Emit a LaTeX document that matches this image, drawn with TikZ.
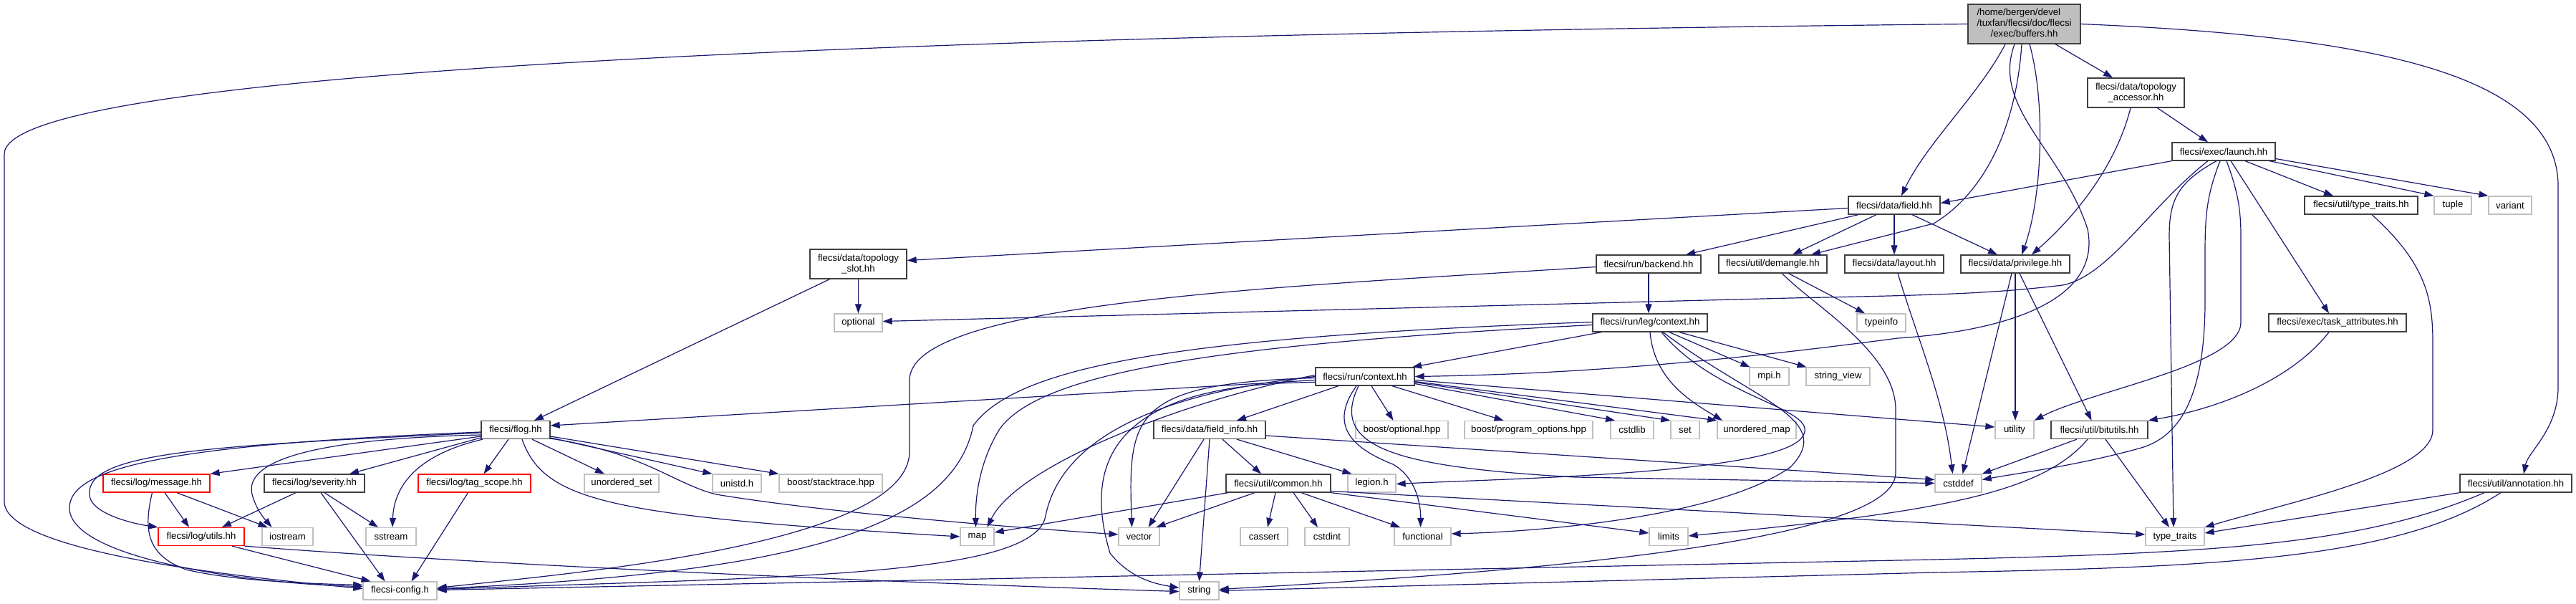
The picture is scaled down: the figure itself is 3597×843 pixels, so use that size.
\documentclass[tikz,border=0pt]{standalone}
\usepackage{fontspec}
\setmainfont{Liberation Sans}
\usetikzlibrary{arrows.meta}
\definecolor{edgec}{HTML}{191970}
\definecolor{docb}{HTML}{404040}
\definecolor{sysb}{HTML}{BFBFBF}
\definecolor{rootf}{HTML}{BFBFBF}
\definecolor{redb}{HTML}{FF0000}
\begin{document}
\begin{tikzpicture}[x=1pt,y=-1pt,
  nb/.style={rectangle, inner sep=0pt, line width=1.3pt, fill=white, text=black, align=center, font=\fontsize{13.2pt}{15pt}\selectfont},
  docn/.style={nb, draw=docb},
  sysn/.style={nb, draw=sysb},
  trn/.style={nb, draw=redb},
  sz/.style 2 args={minimum width=#1pt, minimum height=#2pt},
  edg/.style={draw=edgec, line width=1.2pt, -{Triangle[length=13pt,width=9pt]}}]
\useasboundingbox (0,0) rectangle (3597,843);
\fill[white] (0,0) rectangle (3597,843);
% ---- nodes
\node[docn, fill=rootf, sz={157}{55}] (root) at (2826.5,33.5) {\begin{tabular}{@{}l@{}}/home/bergen/devel\\/tuxfan/flecsi/doc/flecsi\\\multicolumn{1}{@{}c@{}}{/exec/buffers.hh}\end{tabular}};
\node[docn, sz={135}{41}] (topacc) at (2982.5,129.5) {flecsi/data/topology\\\_accessor.hh};
\node[docn, sz={144}{25}] (launch) at (3105,211.5) {flecsi/exec/launch.hh};
\node[docn, sz={128}{25}] (field) at (2645,286.5) {flecsi/data/field.hh};
\node[docn, sz={158}{25}] (typetraitshh) at (3297,286.5) {flecsi/util/type\_traits.hh};
\node[sysn, sz={52}{25}] (ntuple) at (3425,286.5) {tuple};
\node[sysn, sz={60}{25}] (nvariant) at (3505,286.5) {variant};
\node[docn, sz={135}{41}] (topslot) at (1198.5,368.5) {flecsi/data/topology\\\_slot.hh};
\node[docn, sz={146}{25}] (backend) at (2302,368.5) {flecsi/run/backend.hh};
\node[docn, sz={151}{25}] (demangle) at (2475.5,368.5) {flecsi/util/demangle.hh};
\node[docn, sz={138}{25}] (layout) at (2645,368.5) {flecsi/data/layout.hh};
\node[docn, sz={152}{25}] (privilege) at (2814,368.5) {flecsi/data/privilege.hh};
\node[sysn, sz={67}{25}] (noptional) at (1198.5,450.5) {optional};
\node[docn, sz={160}{25}] (legctx) at (2304,450.5) {flecsi/run/leg/context.hh};
\node[sysn, sz={68}{25}] (ntypeinfo) at (2627,450.5) {typeinfo};
\node[docn, sz={192}{25}] (taskattr) at (3264,450.5) {flecsi/exec/task\_attributes.hh};
\node[docn, sz={138}{25}] (runctx) at (1906,525.5) {flecsi/run/context.hh};
\node[sysn, sz={55}{25}] (nmpi) at (2470.5,525.5) {mpi.h};
\node[sysn, sz={89}{25}] (nsview) at (2566.5,525.5) {string\_view};
\node[docn, sz={96}{25}] (flog) at (720,600) {flecsi/flog.hh};
\node[docn, sz={156}{25}] (fieldinfo) at (1689,600) {flecsi/data/field\_info.hh};
\node[sysn, sz={129}{25}] (boostopt) at (1957.5,600) {boost/optional.hpp};
\node[sysn, sz={179}{25}] (boostpo) at (2134.5,600) {boost/program\_options.hpp};
\node[sysn, sz={60}{25}] (ncstdlib) at (2279,600) {cstdlib};
\node[sysn, sz={40}{25}] (nset) at (2353,600) {set};
\node[sysn, sz={110}{25}] (numap) at (2453,600) {unordered\_map};
\node[sysn, sz={54}{25}] (nutility) at (2813,600) {utility};
\node[docn, sz={135}{25}] (bitutils) at (2931.5,600) {flecsi/util/bitutils.hh};
\node[trn, sz={149}{25}] (message) at (218.5,674.5) {flecsi/log/message.hh};
\node[docn, sz={140}{25}] (severity) at (439,674.5) {flecsi/log/severity.hh};
\node[trn, sz={157}{25}] (tagscope) at (662.5,674.5) {flecsi/log/tag\_scope.hh};
\node[sysn, sz={104}{25}] (nuset) at (868,674.5) {unordered\_set};
\node[sysn, sz={68}{25}] (nunistd) at (1029,674.5) {unistd.h};
\node[sysn, sz={144}{25}] (nstack) at (1160,674.5) {boost/stacktrace.hpp};
\node[docn, sz={146}{25}] (common) at (1785,674.5) {flecsi/util/common.hh};
\node[sysn, sz={67}{25}] (nlegion) at (1915.5,674.5) {legion.h};
\node[sysn, sz={65}{25}] (ncstddef) at (2734.5,674.5) {cstddef};
\node[docn, sz={156}{25}] (annotation) at (3513,674.5) {flecsi/util/annotation.hh};
\node[trn, sz={120}{25}] (utils) at (281,749) {flecsi/log/utils.hh};
\node[sysn, sz={71}{25}] (niostream) at (401.5,749) {iostream};
\node[sysn, sz={70}{25}] (nsstream) at (546,749) {sstream};
\node[sysn, sz={47}{25}] (nmap) at (1364.5,749) {map};
\node[sysn, sz={57}{25}] (nvector) at (1590.5,749) {vector};
\node[sysn, sz={66}{25}] (ncassert) at (1765,749) {cassert};
\node[sysn, sz={62}{25}] (ncstdint) at (1853,749) {cstdint};
\node[sysn, sz={79}{25}] (nfunctional) at (1986.5,749) {functional};
\node[sysn, sz={54}{25}] (nlimits) at (2330,749) {limits};
\node[sysn, sz={82}{25}] (ntt) at (3037,749) {type\_traits};
\node[sysn, sz={103}{25}] (config) at (558.5,824.5) {flecsi-config.h};
\node[sysn, sz={55}{25}] (nstring) at (1674.5,824.5) {string};
% ---- root
\draw[edg] (root.west) .. controls (1200,50) and (6,100) .. (6,215) -- (6,700) .. controls (6,770) and (330,805) .. ([yshift=3pt]config.west);
\draw[edg] ([xshift=-26.5pt]root.south) .. controls (2765,130) and (2690,200) .. ([xshift=10pt]field.north);
\draw[edg] ([xshift=-13.5pt]root.south) .. controls (2780,150) and (2880,210) .. (2915,320) .. controls (2935,420) and (2800,462) .. (2650,472) .. controls (2400,505) and (2200,522) .. (runctx.east);
\draw[edg] ([xshift=-3.5pt]root.south) .. controls (2815,180) and (2770,270) .. (2700,312) -- ([xshift=53.5pt]demangle.north);
\draw[edg] ([xshift=7.5pt]root.south) .. controls (2858,150) and (2850,280) .. ([xshift=9pt]privilege.north);
\draw[edg] ([xshift=43.5pt]root.south) -- ([xshift=-32.5pt]topacc.north);
\draw[edg] (root.east) .. controls (3300,50) and (3572,100) .. (3572,260) -- (3572,540) .. controls (3572,600) and (3530,630) .. ([xshift=11pt]annotation.north);
% ---- topology_accessor
\draw[edg] ([xshift=-7.5pt]topacc.south) .. controls (2955,230) and (2900,300) .. ([xshift=23pt]privilege.north);
\draw[edg] ([xshift=30pt]topacc.south) -- ([xshift=-22pt]launch.north);
% ---- launch
\draw[edg] (launch.south west) -- ([yshift=3pt]field.east);
\draw[edg] ([xshift=-22pt]launch.south) .. controls (3000,290) and (2945,385) .. (2880,398) .. controls (2780,410) and (2700,412) .. (2500,416) -- ([yshift=2pt]noptional.east);
\draw[edg] ([xshift=-10pt]launch.south) .. controls (3040,255) and (3029,280) .. (3029,330) -- ([xshift=-2pt]ntt.north);
\draw[edg] ([xshift=-5pt]launch.south) .. controls (3082,270) and (3079,300) .. (3079,350) -- (3079,420) .. controls (3079,560) and (3040,610) .. (2990,625) .. controls (2900,650) and (2820,660) .. ([yshift=5pt]ncstddef.east);
\draw[edg] ([xshift=4pt]launch.south) .. controls (3124,265) and (3129,290) .. (3129,330) -- (3129,450) .. controls (3129,510) and (2920,545) .. (nutility.north east);
\draw[edg] ([xshift=10pt]launch.south) -- ([xshift=-12pt]taskattr.north);
\draw[edg] ([xshift=30pt]launch.south) -- ([xshift=-39pt]typetraitshh.north);
\draw[edg] ([xshift=64pt]launch.south) -- (ntuple.north west);
\draw[edg] ([yshift=-10pt]launch.east) -- (nvariant.north west);
% ---- field
\draw[edg] ([yshift=-4pt]field.west) -- ([yshift=5pt]topslot.east);
\draw[edg] ([xshift=-50pt]field.south) -- ([xshift=52pt]backend.north);
\draw[edg] ([xshift=-25pt]field.south) -- ([xshift=27.5pt]demangle.north);
\draw[edg] (field.south) -- (layout.north);
\draw[edg] ([xshift=25pt]field.south) -- ([xshift=-25pt]privilege.north);
% ---- topology_slot
\draw[edg] ([xshift=-40pt]topslot.south) -- ([xshift=26pt]flog.north);
\draw[edg] (topslot.south) -- (noptional.north);
% ---- backend
\draw[edg] (backend.south) -- ([xshift=-2pt]legctx.north);
\draw[edg] ([yshift=-4pt]backend.west) .. controls (1800,400) and (1272,420) .. (1270,530) -- (1270,630) .. controls (1270,760) and (800,800) .. ([yshift=4pt]config.east);
% ---- demangle
\draw[edg] ([xshift=22pt]demangle.south) -- ([xshift=-23pt]ntypeinfo.north);
\draw[edg] ([xshift=13pt]demangle.south) .. controls (2530,425) and (2645,490) .. (2647,570) -- (2647,660) .. controls (2647,760) and (2100,800) .. ([yshift=2pt]nstring.east);
% ---- layout
\draw[edg] ([xshift=5pt]layout.south) .. controls (2680,480) and (2715,560) .. ([xshift=-8pt]ncstddef.north);
% ---- privilege
\draw[edg] ([xshift=-5pt]privilege.south) -- ([xshift=6pt]ncstddef.north);
\draw[edg] (privilege.south) -- ([xshift=1pt]nutility.north);
\draw[edg] ([xshift=6pt]privilege.south) -- ([xshift=-11pt]bitutils.north);
% ---- leg/context
\draw[edg] ([xshift=-68pt]legctx.south) -- ([xshift=66pt]runctx.north);
\draw[edg] (legctx.south) .. controls (2310,530) and (2360,560) .. ([xshift=-48pt]numap.north);
\draw[edg] ([xshift=16pt]legctx.south) .. controls (2400,560) and (2550,570) .. (2515,612) .. controls (2470,662) and (2100,668) .. ([yshift=-1pt]nlegion.east);
\draw[edg] ([xshift=18pt]legctx.south) .. controls (2450,560) and (2565,585) .. (2500,652) .. controls (2400,722) and (2150,742) .. ([yshift=4pt]nfunctional.east);
\draw[edg] ([xshift=27pt]legctx.south) -- ([xshift=-27pt]nmpi.north);
\draw[edg] ([xshift=41pt]legctx.south) -- ([xshift=-44pt]nsview.north);
\draw[edg] ([yshift=-3pt]legctx.west) .. controls (1700,480) and (1450,520) .. (1395,600) .. controls (1365,650) and (1362,700) .. ([xshift=-2pt]nmap.north);
\draw[edg] ([yshift=1pt]legctx.west) .. controls (1650,470) and (1420,510) .. (1359,594) .. controls (1330,740) and (1100,800) .. ([yshift=3pt]config.east);
% ---- run/context
\draw[edg] ([yshift=-5pt]runctx.west) -- ([yshift=6pt]flog.east);
\draw[edg] ([xshift=-37pt]runctx.south) -- ([xshift=38pt]fieldinfo.north);
\draw[edg] ([xshift=9pt]runctx.south) -- ([xshift=-12pt]boostopt.north);
\draw[edg] ([xshift=38pt]runctx.south) -- ([xshift=-35pt]boostpo.north);
\draw[edg] ([yshift=-10pt]runctx.east) -- ([xshift=-24pt]ncstdlib.north);
\draw[edg] ([yshift=-8pt]runctx.east) -- (nset.north west);
\draw[edg] ([yshift=-7pt]runctx.east) -- (numap.north west);
\draw[edg] ([yshift=-5pt]runctx.east) -- ([yshift=4pt]nutility.west);
\draw[edg] ([xshift=-12pt]runctx.south) .. controls (1850,600) and (1900,630) .. (1945,648) .. controls (1975,665) and (1984,700) .. ([xshift=-3pt]nfunctional.north);
\draw[edg] ([xshift=-9pt]runctx.south) .. controls (1855,625) and (1950,652) .. (2200,666) -- (ncstddef.west);
\draw[edg] ([yshift=2pt]runctx.west) .. controls (1650,560) and (1420,650) .. ([xshift=14pt]nmap.north);
\draw[edg] ([yshift=-2pt]runctx.west) .. controls (1580,535) and (1575,580) .. ([xshift=-10pt]nvector.north);
\draw[edg] ([yshift=-8pt]runctx.west) .. controls (1560,535) and (1510,640) .. (1550,772) .. controls (1580,810) and (1620,816) .. ([yshift=4pt]nstring.west);
\draw[edg] (runctx.west) .. controls (1600,550) and (1480,620) .. (1460,720) .. controls (1445,805) and (1100,805) .. ([yshift=2pt]config.east);
% ---- field_info
\draw[edg] ([yshift=-8pt]fieldinfo.east) -- ([yshift=5pt]ncstddef.west);
\draw[edg] ([xshift=38pt]fieldinfo.south) -- ([xshift=-28pt]nlegion.north);
\draw[edg] ([xshift=18pt]fieldinfo.south) -- ([xshift=-24pt]common.north);
\draw[edg] ([xshift=-8pt]fieldinfo.south) -- ([xshift=13pt]nvector.north);
\draw[edg] (fieldinfo.south) -- (nstring.north);
% ---- common
\draw[edg] ([xshift=-70pt]common.south) -- ([yshift=6pt]nmap.east);
\draw[edg] ([xshift=-33pt]common.south) -- ([xshift=24pt]nvector.north);
\draw[edg] ([xshift=-4pt]common.south) -- ([xshift=5pt]ncassert.north);
\draw[edg] ([xshift=21pt]common.south) -- ([xshift=-13pt]ncstdint.north);
\draw[edg] ([xshift=32pt]common.south) -- ([xshift=-31.5pt]nfunctional.north);
\draw[edg] (common.south east) -- ([yshift=5pt]nlimits.west);
\draw[edg] ([yshift=-11pt]common.east) -- ([yshift=3pt]ntt.west);
% ---- bitutils
\draw[edg] ([xshift=-31.5pt]bitutils.south) -- (ncstddef.north east);
\draw[edg] ([xshift=-16.5pt]bitutils.south) .. controls (2850,690) and (2700,715) .. ([yshift=1pt]nlimits.east);
\draw[edg] ([xshift=8.5pt]bitutils.south) -- ([xshift=-8pt]ntt.north);
% ---- task_attributes, type_traits.hh
\draw[edg] ([xshift=-12pt]taskattr.south) .. controls (3200,530) and (3100,570) .. (bitutils.north east);
\draw[edg] ([xshift=15pt]typetraitshh.south) .. controls (3390,370) and (3397,420) .. (3397,480) -- (3397,600) .. controls (3397,660) and (3200,700) .. (ntt.north east);
% ---- annotation
\draw[edg] (annotation.south west) -- ([yshift=5pt]ntt.east);
\draw[edg] ([xshift=-44pt]annotation.south) .. controls (3300,760) and (3100,772) .. (2700,781) -- ([yshift=1pt]config.east);
\draw[edg] ([xshift=-21pt]annotation.south) .. controls (3350,780) and (3100,792) .. (2700,799) -- (nstring.east);
% ---- flog
\draw[edg] ([yshift=-9pt]flog.west) -- (message.north east);
\draw[edg] ([yshift=-11pt]flog.west) -- ([xshift=49pt]severity.north);
\draw[edg] ([xshift=-10pt]flog.south) -- ([xshift=13pt]tagscope.north);
\draw[edg] ([yshift=-7pt]flog.west) .. controls (450,612) and (340,640) .. (352,690) .. controls (358,712) and (370,725) .. ([xshift=-22pt]niostream.north);
\draw[edg] ([xshift=-46pt]flog.south) .. controls (580,635) and (550,680) .. ([xshift=2pt]nsstream.north);
\draw[edg] ([yshift=-4pt]flog.west) .. controls (300,622) and (120,630) .. (125,690) .. controls (125,715) and (180,730) .. (utils.north west);
\draw[edg] ([yshift=-3pt]flog.west) .. controls (250,620) and (95,650) .. (97,710) .. controls (100,780) and (350,815) .. ([yshift=6pt]config.west);
\draw[edg] ([xshift=23pt]flog.south) -- ([xshift=-24pt]nuset.north);
\draw[edg] ([yshift=-11pt]flog.east) -- (nunistd.north west);
\draw[edg] ([yshift=-9pt]flog.east) -- (nstack.north west);
\draw[edg] ([yshift=-12pt]flog.east) .. controls (900,632) and (940,675) .. (1000,690) .. controls (1150,715) and (1400,735) .. ([yshift=3pt]nvector.west);
\draw[edg] ([xshift=9pt]flog.south) .. controls (760,700) and (850,720) .. (nmap.west);
% ---- message
\draw[edg] ([xshift=11.5pt]message.south) -- ([xshift=-17pt]utils.north);
\draw[edg] ([xshift=28.5pt]message.south) -- ([xshift=-28pt]niostream.north);
\draw[edg] ([xshift=-6pt]message.south) .. controls (200,740) and (205,775) .. (260,795) .. controls (330,812) and (450,815) .. ([yshift=8pt]config.west);
% ---- severity
\draw[edg] ([xshift=-26pt]severity.south) -- ([xshift=29pt]utils.north);
\draw[edg] ([xshift=14pt]severity.south) -- ([xshift=-18pt]nsstream.north);
\draw[edg] ([xshift=9pt]severity.south) -- ([xshift=-21pt]config.north);
% ---- tag_scope
\draw[edg] ([xshift=-9pt]tagscope.south) -- ([xshift=16pt]config.north);
% ---- utils
\draw[edg] ([xshift=43pt]utils.south) -- ([xshift=-41pt]config.north);
\draw[edg] (utils.south east) .. controls (700,790) and (1300,815) .. ([yshift=-1pt]nstring.west);
\end{tikzpicture}
\end{document}
